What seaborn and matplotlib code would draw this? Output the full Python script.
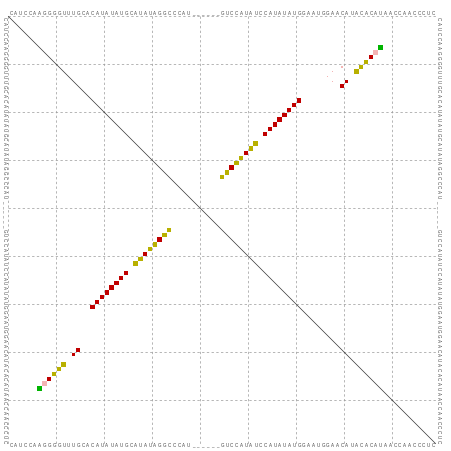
import numpy as np
import pandas as pd
import seaborn as sns
import matplotlib.pyplot as plt

# consensus sequence (89 nt, gaps as "_")
sequence = "CAUCCAAGGGGUUUGCACAUAUAUGCAUAUAGGCCCAU______GUCCAUAUCCAUAUAUGGAAUGGAACAUACACAUAACCAACCCUC"

# base pairs i<j, box side (sqrt of probability), colour class
pair_i = [7, 8, 9, 10, 11, 12, 14, 15,
          18, 19, 20, 21, 22, 23, 24, 25, 27, 28, 29, 30, 31, 32, 33, 34]
pair_j = [78, 77, 76, 75, 74, 73, 71, 70,
          61, 60, 59, 58, 57, 56, 55, 54, 52, 51, 50, 49, 48, 47, 46, 45]
pair_side = [0.95, 0.95, 0.95, 0.95, 0.95, 0.95, 0.65, 0.95,
             0.95, 0.95, 0.95, 0.95, 0.95, 0.95, 0.95, 0.95,
             0.95, 0.95, 0.95, 0.95, 0.95, 0.95, 0.95, 0.95]
pair_kind = ["green", "pink", "red", "olive", "olive", "olive", "red", "red",
             "red", "red", "red", "red", "red", "red", "red", "red",
             "olive", "olive", "red", "olive", "olive", "red", "olive", "olive"]

# weak pairs shown only in the upper triangle
weak_i = [11, 12, 13, 14]
weak_j = [70, 68, 67, 68]
weak_side = [0.3, 0.2, 0.25, 0.2]
weak_kind = ["pink", "pink", "pink", "pink"]

colors = {"red": "#c00000", "olive": "#b8b000", "green": "#00b400", "pink": "#f4b4b4"}

n = len(sequence)
unit_pt = 4.8 * 72 / 100  # one nucleotide in points

upper = pd.DataFrame({"x": pair_j + weak_j, "y": pair_i + weak_i,
                      "side": pair_side + weak_side, "kind": pair_kind + weak_kind})
lower = pd.DataFrame({"x": pair_i, "y": pair_j, "side": pair_side, "kind": pair_kind})
df = pd.concat([upper, lower], ignore_index=True)
sizes = {s: (s * unit_pt) ** 2 for s in df["side"].unique()}

fig = plt.figure(figsize=(4.52, 4.51), dpi=100)
ax = fig.add_axes([0, 0, 1, 1])

# dashed grid every 10 nt
for k in range(0, n, 10):
    ax.plot([k + 0.5, k + 0.5], [0.5, n + 0.5], color="#999999", lw=0.5,
            ls=(0, (3.4, 3.4)))
    ax.plot([0.5, n + 0.5], [k + 0.5, k + 0.5], color="#999999", lw=0.5,
            ls=(0, (3.4, 3.4)))
# diagonal
ax.plot([0.5, n + 0.5], [0.5, n + 0.5], color="#333333", lw=0.5)

sns.scatterplot(data=df, x="x", y="y", hue="kind", palette=colors, size="side",
                sizes=sizes, marker="s", linewidth=0, legend=False, ax=ax)

# sequence on all four sides
fs = 0.95 * unit_pt
for k, ch in enumerate(sequence):
    ax.text(0.7 + k, 90.3, ch, fontsize=fs, family="Liberation Sans",
            ha="left", va="baseline", color="#444444")
    ax.text(0.7 + k, 0.3, ch, fontsize=fs, family="Liberation Sans",
            ha="left", va="baseline", color="#444444")
    ax.text(-0.7, 0.7 + k, ch, fontsize=fs, family="Liberation Sans", rotation=-90,
            rotation_mode="anchor", ha="left", va="baseline", color="#444444")
    ax.text(89.7, 0.7 + k, ch, fontsize=fs, family="Liberation Sans", rotation=-90,
            rotation_mode="anchor", ha="left", va="baseline", color="#444444")

ax.set_xlim(-1.25, 446 / 4.8)
ax.set_ylim(437 / 4.8, -14 / 4.8)
ax.axis("off")

fig.savefig("out.png", dpi=100)
